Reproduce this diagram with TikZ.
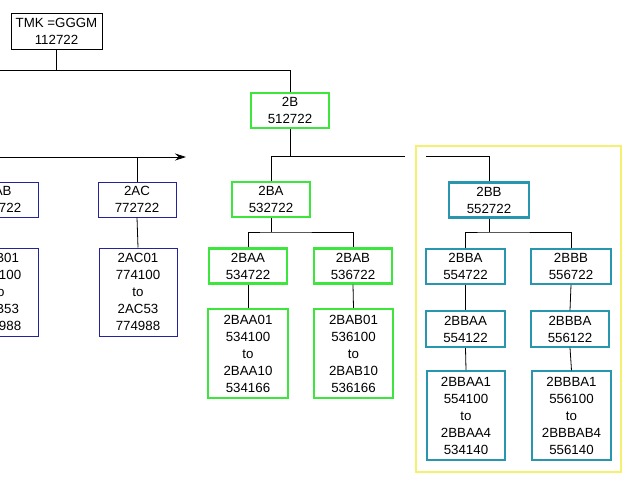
\documentclass[tikz,border=0pt]{standalone}
\usepackage{fontspec}
\setmainfont{Liberation Sans}
\usetikzlibrary{arrows.meta}
\definecolor{chartgreen}{RGB}{60,230,60}
\definecolor{chartblue}{RGB}{35,35,160}
\definecolor{chartteal}{RGB}{40,150,175}
\definecolor{chartyellow}{RGB}{245,240,110}
\tikzset{
  unit/.style={draw, align=center, inner sep=0pt, minimum width=78, minimum height=35,
    font=\fontsize{13.3}{17}\selectfont},
  tall/.style={unit, minimum height=88},
  blackbox/.style={line width=0.9pt, draw=black},
  bluebox/.style={line width=1pt, draw=chartblue},
  greenbox/.style={line width=2.2pt, draw=chartgreen},
  tealbox/.style={line width=1.3pt, draw=chartteal},
  link/.style={line width=0.8pt, draw=black}
}

\begin{document}
\begin{tikzpicture}[x=1pt, y=-1pt]
			%%%%% START %%%%%
			
			\clip (0, 0) rectangle (627, 480);
			\fill[white] (0, 0) rectangle (627, 480);
			
			\draw[line width=1.4pt, color=chartyellow] (416, 146) rectangle (621, 472);
			
			\node[unit, blackbox, minimum width=91, minimum height=36] (tmk) at (56.5, 31) {TMK =GGGM\\112722};
			
			\node[unit, greenbox] (b) at (290, 110.5) {2B\\512722};
			\node[unit, greenbox] (ba) at (271, 199.5) {2BA\\532722};
			\node[unit, greenbox] (baa) at (248, 266) {2BAA\\534722};
			\node[unit, greenbox] (bab) at (353, 266) {2BAB\\536722};
			\node[tall, greenbox, minimum width=80, minimum height=89] (baa01) at (248, 353.5) {2BAA01\\534100\\to\\2BAA10\\534166};
			\node[tall, greenbox, minimum width=79, minimum height=89] (bab01) at (353.5, 353.5) {2BAB01\\536100\\to\\2BAB10\\536166};
			
			\node[unit, tealbox, line width=2.2pt, minimum width=80] (bb) at (489, 200) {2BB\\552722};
			\node[unit, tealbox, minimum width=79] (bba) at (465.5, 266.5) {2BBA\\554722};
			\node[unit, tealbox, line width=1.8pt, minimum width=80] (bbb) at (571, 266.5) {2BBB\\556722};
			\node[unit, tealbox, line width=2.2pt, minimum width=79, minimum height=36] (bbaa) at (465.5, 329) {2BBAA\\554122};
			\node[unit, tealbox, minimum width=78, minimum height=36] (bbba) at (570, 329) {2BBBA\\556122};
			\node[tall, tealbox, line width=2pt, minimum width=78, minimum height=89] (bbaa1) at (466, 415.5) {2BBAA1\\554100\\to\\2BBAA4\\534140};
			\node[tall, tealbox, minimum width=79, minimum height=89] (bbba1) at (571.5, 415.5) {2BBBA1\\556100\\to\\2BBBAB4\\556140};
			
			\node[unit, bluebox] (ac) at (137, 199.5) {2AC\\772722};
			\node[tall, bluebox] (ac01) at (138, 292) {2AC01\\774100\\to\\2AC53\\774988};
			\node[unit, bluebox] (ab) at (-1, 199.5) {2AB\\772722};
			\node[tall, bluebox] (ab01) at (-1, 292) {2AB01\\774100\\to\\2AB53\\774988};
			
			% top level
			\coordinate (toprow) at (0, 70);
			\draw[link] (tmk.south) -- (tmk.south |- toprow);
			\draw[link] (toprow) -| (b.north);
			
			% 2A branch
			\coordinate (arrowin) at (0, 157);
			\coordinate (arrowout) at (186, 157);
			\draw[link, -{Stealth[length=11pt, width=7pt]}] (arrowin) -- (arrowout);
			\draw[link] (ac.north) -- (ac.north |- arrowin);
			\draw[link] (ac.south) -- (ac01.north);
			
			% 2B branch
			\coordinate (brow) at (405, 156);
			\coordinate (bbrow) at (426, 156);
			\draw[link] (b.south) -- (b.south |- brow);
			\draw[link] (ba.north) |- (brow);
			\draw[link] (bbrow) -| (bb.north);
			
			\coordinate (barow) at (0, 232);
			\draw[link] (ba.south) -- (ba.south |- barow);
			\draw[link] (baa.north) |- (ba.south |- barow) -| (bab.north);
			\draw[link] (baa.south) -- (baa01.north);
			\draw[link] (bab.south) -- (bab01.north);
			
			\coordinate (bbrow2) at (0, 232);
			\draw[link] (bb.south) -- (bb.south |- bbrow2);
			\draw[link] (bba.north) |- (bb.south |- bbrow2) -| (bbb.north);
			\draw[link] (bba.south) -- (bbaa.north);
			\draw[link] (bbb.south) -- (bbba.north);
			\draw[link] (bbaa.south) -- (bbaa1.north);
			\draw[link] (bbba.south) -- (bbba1.north);
			
			%%%%% END %%%%%
\end{tikzpicture}
\end{document}
